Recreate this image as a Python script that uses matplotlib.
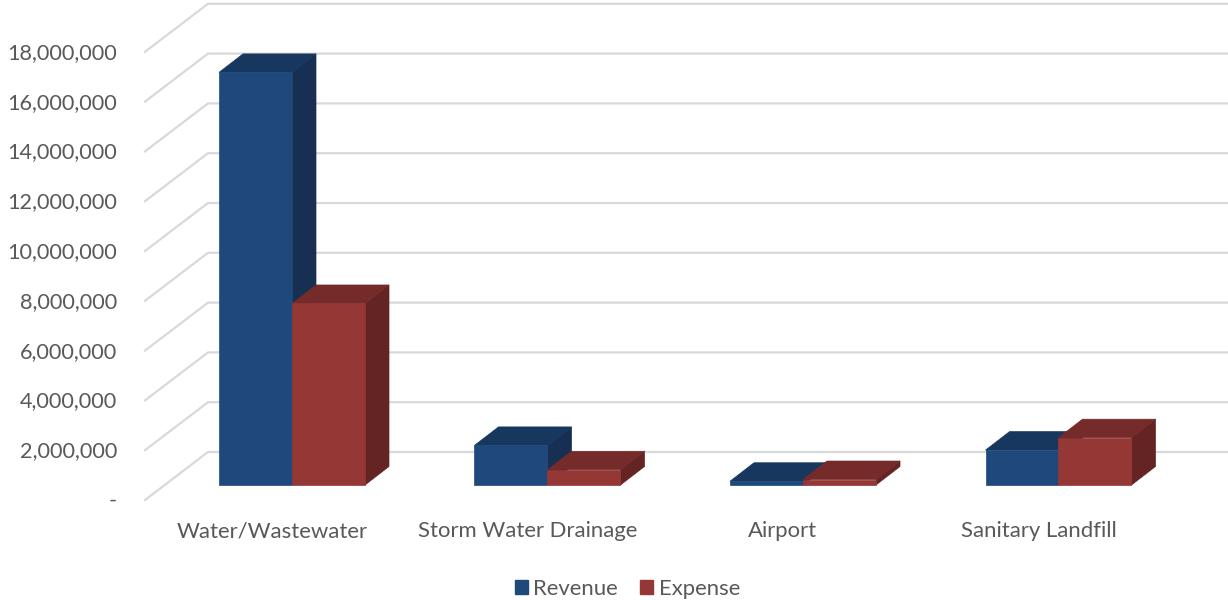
"""Ingresos y gastos por servicio, barras en pseudo-3D al estilo de hoja de cálculo."""

import matplotlib.pyplot as plt
from matplotlib.patches import Patch, Polygon

categorias = ["Water/Wastewater", "Storm Water Drainage", "Airport", "Sanitary Landfill"]
revenue = [16570000, 1590000, 150000, 1400000]
expense = [7290000, 610000, 220000, 1900000]
ticks = [0, 2000000, 4000000, 6000000, 8000000, 10000000, 12000000, 14000000, 16000000, 18000000]

# Escala: píxeles por categoría y por unidad de valor
PX_CAT = 255.5
PX_VALOR = 49.8 / 2000000
X0_PX = 292.0
Y0_PX = 485.0
ANCHO = 73 / PX_CAT

# Profundidad de las barras y de la pared del fondo
PROF_X = 24 / PX_CAT
PROF_Y = 18.5 / PX_VALOR
FRENTE_X = (145 - X0_PX) / PX_CAT
FONDO_X = (208 - X0_PX) / PX_CAT
FRENTE_Y = (Y0_PX - 500) / PX_VALOR
FONDO_Y = (Y0_PX - 452) / PX_VALOR

GRIS_GRID = "#d9d9d9"
GRIS_TEXTO = "#595959"
AZUL = ("#1f497d", "#18375f", "#162f52")
ROJO = ("#953735", "#742b29", "#632423")
TAM_TEXTO = 15.9

plt.rcParams["font.family"] = ["Lato", "DejaVu Sans"]

fig = plt.figure(figsize=(12.28, 6), dpi=100)
ax = fig.add_axes([0, 0, 1, 1])
ax.set_xlim(-X0_PX / PX_CAT, (1228 - X0_PX) / PX_CAT)
ax.set_ylim((Y0_PX - 600) / PX_VALOR, Y0_PX / PX_VALOR)
ax.axis("off")

# Rejilla: tramo lateral y pared del fondo
for t in ticks:
    ax.plot(
        [FRENTE_X, FONDO_X, ax.get_xlim()[1]],
        [t + FRENTE_Y, t + FONDO_Y, t + FONDO_Y],
        color=GRIS_GRID,
        linewidth=1.6,
        zorder=1,
    )
    etiqueta = f"{t:,}" if t else "-"
    ax.text(
        117 / PX_CAT + ax.get_xlim()[0],
        t + (Y0_PX - 501) / PX_VALOR,
        etiqueta,
        ha="right",
        va="center",
        fontsize=15.6,
        color=GRIS_TEXTO,
    )


def barra(x, valor, colores, z):
    frente, techo, lado = colores
    der = x + ANCHO
    caras = [
        (lado, [(der, 0), (der + PROF_X, PROF_Y), (der + PROF_X, valor + PROF_Y), (der, valor)]),
        (techo, [(x, valor), (x + PROF_X, valor + PROF_Y), (der + PROF_X, valor + PROF_Y), (der, valor)]),
        (frente, [(x, 0), (der, 0), (der, valor), (x, valor)]),
    ]
    for color, puntos in caras:
        ax.add_patch(Polygon(puntos, closed=True, facecolor=color, edgecolor=color, linewidth=0.5, zorder=z))


for i, nombre in enumerate(categorias):
    barra(i - ANCHO, revenue[i], AZUL, 2 + i * 2)
    barra(i, expense[i], ROJO, 3 + i * 2)
    # La etiqueta queda centrada en el eje frontal, algo a la izquierda de las barras
    ax.text(
        i - 20 / PX_CAT,
        (Y0_PX - 531) / PX_VALOR,
        nombre,
        ha="center",
        va="center",
        fontsize=TAM_TEXTO,
        color=GRIS_TEXTO,
    )

# Leyenda inferior
fig.legend(
    handles=[Patch(color=AZUL[0], label="Revenue"), Patch(color=ROJO[0], label="Expense")],
    loc="center",
    bbox_to_anchor=(627.5 / 1228, 1 - 589 / 600),
    ncol=2,
    frameon=False,
    fontsize=TAM_TEXTO,
    labelcolor=GRIS_TEXTO,
    handlelength=0.6,
    handleheight=0.6,
    handletextpad=0.25,
    columnspacing=1.0,
)

fig.savefig("out.png", dpi=100)
